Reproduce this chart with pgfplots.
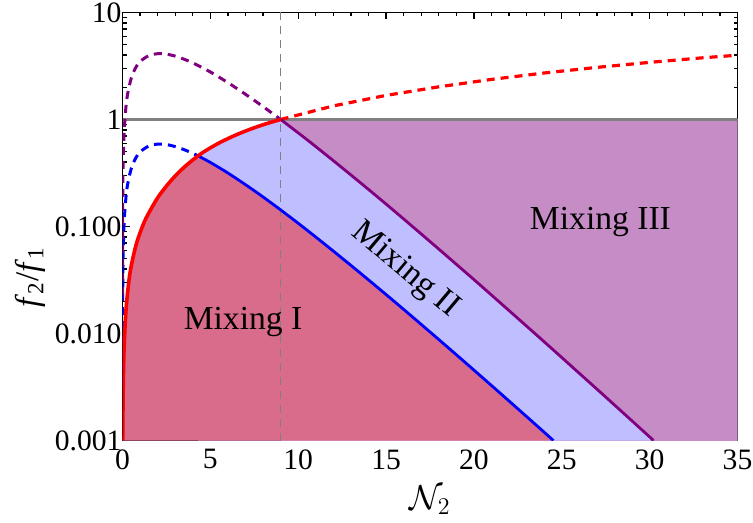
\documentclass[border=0pt]{standalone}
\usepackage{fontspec}
\setmainfont{Liberation Serif}
\usepackage{pgfplots}
\pgfplotsset{compat=1.18}
\definecolor{mixI}{RGB}{217,108,139}
\definecolor{mixII}{RGB}{191,191,255}
\definecolor{mixIII}{RGB}{198,140,197}
\definecolor{mpurple}{RGB}{128,0,128}
\definecolor{mgray}{RGB}{128,128,128}
\begin{document}
\begin{tikzpicture}
\begin{axis}[
  scale only axis, width=307.5pt, height=214pt,
  ymode=log, xmin=0, xmax=35, ymin=0.001, ymax=10,
  xtick={0,5,...,35}, minor x tick num=4,
  ytick={0.001,0.01,0.1,1,10}, yticklabels={0.001,0.010,0.100,1,10},
  tick align=inside, tick pos=both,
  major tick length=3.5pt, minor tick length=2pt,
  axis line style={line width=0.9pt},
  every tick/.style={black, line width=0.7pt},
  tick label style={font=\fontsize{14.8}{17}\selectfont},
  yticklabel style={xshift=3pt},
  xticklabel style={yshift=-1pt},
  /pgf/number format/assume math mode=true,
  xlabel={$\mathcal{N}_2$},
  ylabel={\textit{f}\textsubscript{2}/\textit{f}\textsubscript{1}},
  every axis x label/.style={at={(rel axis cs:0.5,0)}, anchor=center, yshift=-30pt, font=\fontsize{17}{20}\selectfont},
  every axis y label/.style={at={([xshift=-46.25pt]rel axis cs:0,0.382)}, anchor=center, rotate=90, font=\fontsize{16.5}{19}\selectfont},
]
\coordinate (SW) at (rel axis cs:0,0);
\coordinate (NE) at (rel axis cs:1,1);
% Mixing III region
\addplot[fill=mixIII, draw=none] coordinates {(9,0.001) (9,1) (35,1) (35,0.001)};
% Mixing II region
\addplot[fill=mixII, draw=none] coordinates {
 (4.3,0.001) (4.3,0.457) (4.5,0.483) (5,0.543) (5.5,0.604) (6,0.663) (6.5,0.722) (7,0.78) (7.5,0.837) (8,0.893) (8.5,0.947) (9,1)
 (10,0.750) (11,0.558) (12,0.412) (13,0.303) (14,0.222) (15,0.162) (16,0.1176) (17,0.0851) (18,0.0615) (19,0.0443)
 (20,0.0319) (21,0.02286) (22,0.01636) (23,0.0117) (24,0.00836) (25,0.00596) (26,0.00424) (27,0.00302) (28,0.002146)
 (29,0.001523) (30,0.00108) (30.22,0.001)};
% Mixing I region
\addplot[fill=mixI, draw=none] coordinates {
 (0,0.001) (0.0128,0.001) (0.02,0.00153) (0.05,0.00396) (0.1,0.00811) (0.2,0.01663) (0.35,0.0297) (0.5,0.043) (0.8,0.0699)
 (1.2,0.1065) (1.5,0.1341) (2,0.1856) (2.5,0.2388) (3,0.297) (3.5,0.357) (4,0.419) (4.3,0.457)
 (5,0.397) (6,0.316) (7,0.246) (8,0.1888) (9,0.1429) (10,0.1072) (11,0.0797) (12,0.0589) (13,0.0433) (14,0.0317)
 (15,0.02312) (16,0.0168) (17,0.01216) (18,0.00878) (19,0.00633) (20,0.00455) (21,0.003265) (22,0.002337)
 (23,0.001672) (24,0.001194) (24.52,0.001)};
% reference lines
\addplot[mgray, line width=0.6pt, dash pattern=on 4pt off 3pt] coordinates {(9,0.001) (9,10)};
\addplot[mgray, line width=1.2pt] coordinates {(0,1) (35,1)};
% dashed parts
\addplot[blue, line width=1.5pt, dash pattern=on 4pt off 3pt, smooth] coordinates {
 (0.001,0.0033) (0.002,0.00564) (0.005,0.0115) (0.01,0.0197) (0.02,0.0338) (0.05,0.0682) (0.1,0.115) (0.2,0.190)
 (0.3,0.252) (0.5,0.348) (0.75,0.435) (1,0.497) (1.5,0.566) (2,0.589) (2.5,0.583) (3,0.558) (3.5,0.523) (4,0.483) (4.3,0.457)};
\addplot[mpurple, line width=1.5pt, dash pattern=on 4pt off 3pt, smooth] coordinates {
 (0.001,0.023) (0.002,0.0395) (0.005,0.0805) (0.01,0.138) (0.02,0.237) (0.05,0.477) (0.1,0.805) (0.2,1.33) (0.3,1.76)
 (0.5,2.44) (0.75,3.05) (1,3.48) (1.5,3.96) (2,4.12) (2.5,4.08) (3,3.91) (3.5,3.66) (4,3.38) (5,2.78) (6,2.21)
 (7,1.72) (8,1.32) (9,1.0)};
\addplot[red, line width=1.6pt, dash pattern=on 4pt off 3pt] coordinates {
 (9,1) (12,1.34) (15,1.68) (18,2.02) (21,2.37) (24,2.72) (27,3.07) (30,3.42) (33,3.77) (35,3.99)};
% solid parts
\addplot[blue, line width=1.4pt, smooth] coordinates {
 (4.3,0.457) (5,0.397) (6,0.316) (7,0.246) (8,0.1888) (9,0.1429) (10,0.1072) (11,0.0797) (12,0.0589) (13,0.0433)
 (14,0.0317) (15,0.02312) (16,0.0168) (17,0.01216) (18,0.00878) (19,0.00633) (20,0.00455) (21,0.003265)
 (22,0.002337) (23,0.001672) (24,0.001194) (24.52,0.001)};
\addplot[mpurple, line width=1.4pt, smooth] coordinates {
 (9,1) (10,0.750) (11,0.558) (12,0.412) (13,0.303) (14,0.222) (15,0.162) (16,0.1176) (17,0.0851) (18,0.0615)
 (19,0.0443) (20,0.0319) (21,0.02286) (22,0.01636) (23,0.0117) (24,0.00836) (25,0.00596) (26,0.00424) (27,0.00302)
 (28,0.002146) (29,0.001523) (30,0.00108) (30.22,0.001)};
\addplot[red, line width=1.8pt, smooth] coordinates {
 (0.0128,0.001) (0.02,0.00153) (0.05,0.00396) (0.1,0.00811) (0.2,0.01663) (0.35,0.0297) (0.5,0.043) (0.8,0.0699)
 (1.2,0.1065) (1.5,0.1341) (2,0.1856) (2.5,0.2388) (3,0.297) (3.5,0.357) (4,0.419) (4.3,0.457) (4.5,0.483) (5,0.543)
 (5.5,0.604) (6,0.663) (6.5,0.722) (7,0.78) (7.5,0.837) (8,0.893) (8.5,0.947) (9,1)};
% region labels
\node[font=\fontsize{16.8}{19}\selectfont] at (axis cs:6.86,0.0128) {Mixing I};
\node[font=\fontsize{16.8}{19}\selectfont, rotate=-40.2] at (axis cs:16.08,0.039) {Mixing II};
\node[font=\fontsize{16.8}{19}\selectfont] at (axis cs:27.2,0.11) {Mixing III};
\end{axis}
\pgfresetboundingbox
\path[use as bounding box] ([shift={(-61.25pt,-41.25pt)}]SW) rectangle ([shift={(7.75pt,6.25pt)}]NE);
\end{tikzpicture}
\end{document}
